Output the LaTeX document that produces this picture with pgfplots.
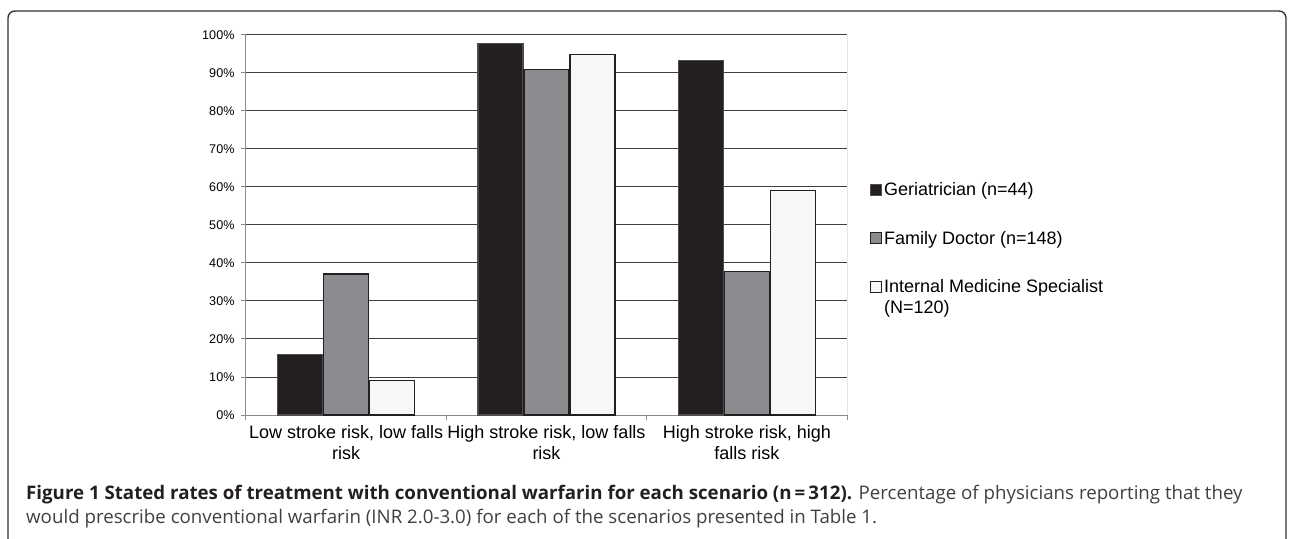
\documentclass[border=0pt]{standalone}
\usepackage{pgfplots}
\pgfplotsset{compat=1.18}
\usepackage{fontspec}
\setmainfont{Liberation Sans}
\newfontfamily\capfont{Open Sans}
\definecolor{cBlack}{HTML}{231F20}
\definecolor{cGray}{HTML}{8B8C90}
\definecolor{cWhite}{HTML}{F7F7F7}
\definecolor{cGrid}{HTML}{404040}
\definecolor{cAxis}{HTML}{8A8A8A}
\pgfplotsset{
  sqlegend/.style={legend image code/.code={\draw[##1, line width=1pt] (0pt,-5.5pt) rectangle (11pt,5.5pt);}},
  sqlegendup/.style={legend image code/.code={\draw[##1, line width=1pt] (0pt,5pt) rectangle (11pt,16pt);}},
}
\begin{document}
\begin{tikzpicture}[x=1pt,y=1pt]
\useasboundingbox (-246,-123) rectangle (1044,415);
\draw[line width=1.4pt, color=black!80, rounded corners=7pt] (-238,-200) -- (-238,404) -- (1040,404) -- (1040,-200);
\begin{axis}[
  at={(0,0)}, anchor=south west,
  scale only axis, width=601pt, height=380pt,
  xmin=-0.5, xmax=2.5, ymin=0, ymax=100,
  ybar=1pt, bar width=45pt,
  axis x line*=bottom, axis y line*=left,
  axis line style={draw=cAxis, line width=1pt},
  tick style={draw=cAxis, line width=1pt},
  major tick length=5pt, tick align=outside,
  /pgf/number format/assume math mode=true,
  xtick={-0.5,0.5,1.5,2.5}, xticklabels={},
  extra x ticks={0,1,2},
  extra x tick labels={{Low stroke risk, low falls\\risk},{High stroke risk, low falls\\risk},{High stroke risk, high\\falls risk}},
  extra x tick style={major tick length=0pt, tick label style={align=center, font=\fontsize{18}{21}\selectfont, inner sep=0pt, yshift=-10pt}},
  ytick={0,10,...,100},
  yticklabel={\pgfmathprintnumber{\tick}\%},
  y tick label style={font=\fontsize{12.6}{15}\selectfont, xshift=-3pt},
  ymajorgrids, grid style={draw=cGrid, line width=1pt},
  legend style={at={(1.038,0.6175)}, anchor=north west, draw=none, fill=none,
    font=\fontsize{18}{21}\selectfont, inner sep=0pt, row sep=30pt,
    cells={anchor=west, align=left}},
  sqlegend,
]
\addplot[fill=cBlack, draw=cBlack!80, line width=1.2pt] coordinates {(0,16.0) (1,97.7) (2,93.2)};
\addplot[fill=cGray, draw=cBlack, line width=1.2pt] coordinates {(0,37.1) (1,91.0) (2,37.7)};
\addplot[fill=cWhite, draw=cBlack, line width=1.2pt, sqlegendup] coordinates {(0,9.0) (1,94.9) (2,59.0)};
\legend{Geriatrician (n=44), Family Doctor (n=148), {Internal Medicine Specialist\\(N=120)}}
\draw[draw=black!85, line width=1pt] (rel axis cs:1,0) -- (rel axis cs:1,1);
\end{axis}
\node[anchor=base west, inner sep=0pt, align=left, font=\capfont\fontsize{18.7}{23.5}\selectfont, text=black!75] at (-220,-108)
{{\bfseries\color{cBlack}Figure 1 Stated rates of treatment with conventional warfarin for each scenario (n\,=\,312).} Percentage of physicians reporting that they\\would prescribe conventional warfarin (INR 2.0-3.0) for each of the scenarios presented in Table 1.};
\end{tikzpicture}
\end{document}
